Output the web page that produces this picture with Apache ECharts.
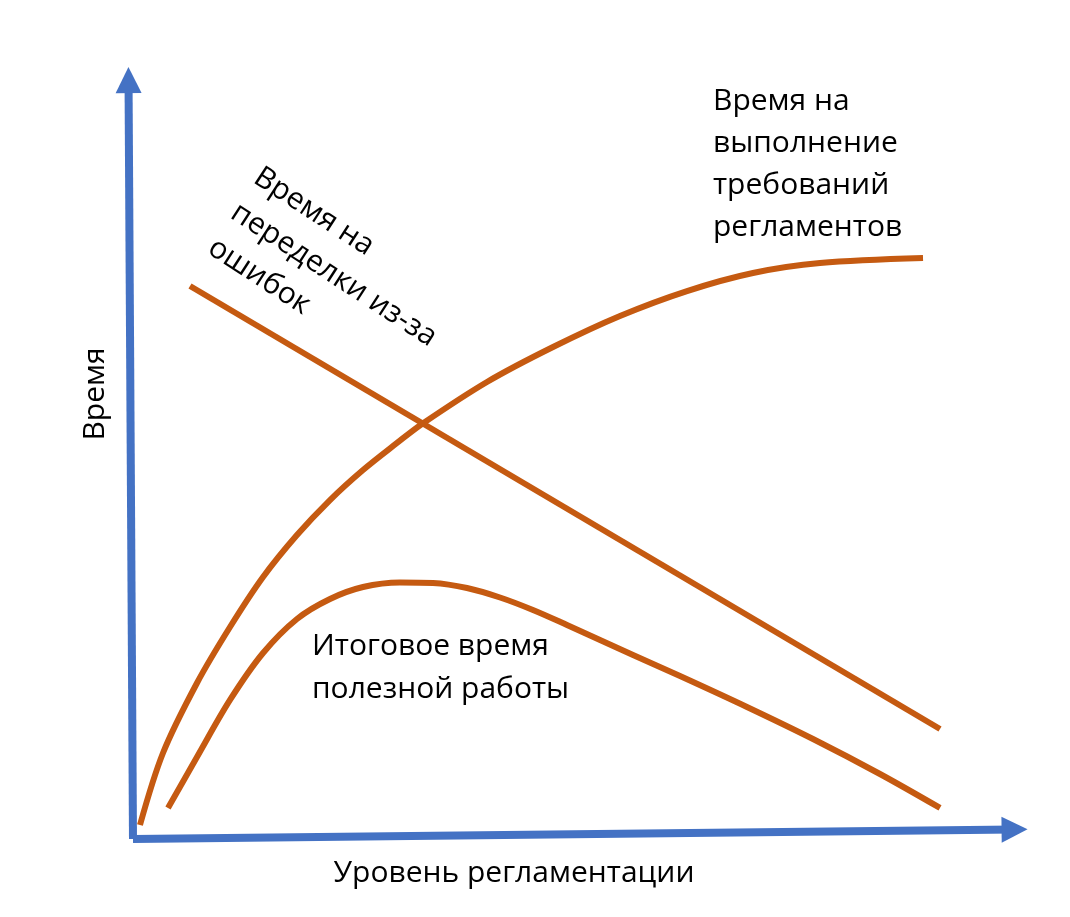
<!DOCTYPE html>
<html>
<head>
<meta charset="utf-8">
<script src="https://cdn.jsdelivr.net/npm/echarts@6/dist/echarts.min.js"></script>
<style>
html,body{margin:0;padding:0;background:#fff;}
#chart{width:1070px;height:917px;}
</style>
</head>
<body>
<div id="chart"></div>
<script>
// Level of regulation (x) and time (y), in chart units 0..100
const regLevel = [0.78, 3.35, 7.15, 10.84, 14.53, 18.32, 22.01, 25.70, 29.50, 32.29, 39.55, 46.93, 54.41, 61.90, 69.27, 76.76, 88.27];
const regTime  = [1.81, 11.14, 20.21, 27.46, 33.94, 39.38, 43.91, 47.80, 51.30, 53.76, 59.20, 63.73, 67.75, 70.98, 73.32, 74.61, 75.26];

const errLevel = [6.37, 90.17];
const errTime  = [71.63, 14.25];

const totLevel = [3.91, 7.15, 10.84, 14.53, 18.32, 22.01, 25.70, 29.83, 33.52, 37.32, 41.01, 44.69, 48.49, 52.18, 55.87, 61.12, 68.60, 75.98, 83.46, 90.17];
const totTime  = [4.02, 10.62, 18.01, 24.09, 28.50, 31.09, 32.64, 33.23, 33.16, 32.51, 31.28, 29.66, 27.72, 25.78, 23.83, 21.11, 17.10, 12.95, 8.42, 4.02];

// hand-drawn axes (start and arrow-centre points, chart units)
const axisYLine = [[0, 0], [-0.5, 98.3]];
const axisXLine = [[0, 0], [98.5, 1.23]];

const labelReg = 'Время на\nвыполнение\nтребований\nрегламентов';
const labelErr = 'Время на\nпеределки из-за\nошибок';
const labelTot = 'Итоговое время\nполезной работы';
const titleX = 'Уровень регламентации';
const titleY = 'Время';

const zip = (a, b) => a.map((v, i) => [v, b[i]]);

const ORANGE = '#C55A11';
const BLUE = '#4472C4';
const FONT = '"Open Sans", "Noto Sans", sans-serif';

const chart = echarts.init(document.getElementById('chart'), null, {renderer: 'canvas'});
const lineBase = {
  type: 'line', showSymbol: false, symbol: 'none', smooth: 0.33, clip: false,
  lineStyle: {color: ORANGE, width: 6, cap: 'butt', join: 'round'}, emphasis: {disabled: true}, silent: true
};
chart.setOption({
  backgroundColor: '#fff',
  animation: false,
  grid: {left: 133, top: 67, width: 895, height: 772},
  xAxis: {type: 'value', min: 0, max: 100, show: false},
  yAxis: {type: 'value', min: 0, max: 100, show: false},
  series: [
    Object.assign({}, lineBase, {name: 'reg', data: zip(regLevel, regTime)}),
    Object.assign({}, lineBase, {name: 'err', smooth: false, data: zip(errLevel, errTime)}),
    Object.assign({}, lineBase, {name: 'tot', data: zip(totLevel, totTime)}),
    {
      type: 'lines', coordinateSystem: 'cartesian2d', clip: false, silent: true,
      symbol: ['none', 'triangle'], symbolSize: [27, 26],
      lineStyle: {color: BLUE, width: 8, opacity: 1, curveness: 0},
      data: [{coords: axisYLine}, {coords: axisXLine}]
    }
  ],
  graphic: [
    {type: 'text', left: 713, top: 80, style: {text: labelReg, font: '30px ' + FONT, fill: '#000', lineHeight: 42}},
    {type: 'text', left: 312, top: 625, style: {text: labelTot, font: '30px ' + FONT, fill: '#000', lineHeight: 43}},
    {type: 'text', x: 268, y: 157, rotation: -33 * Math.PI / 180,
      style: {text: labelErr, font: '30px ' + FONT, fill: '#000', lineHeight: 42, align: 'left', verticalAlign: 'top'}},
    {type: 'text', x: 514, y: 873, style: {text: titleX, font: '30px ' + FONT, fill: '#000', align: 'center', verticalAlign: 'middle'}},
    {type: 'text', x: 95, y: 394, rotation: Math.PI / 2,
      style: {text: titleY, font: '30px ' + FONT, fill: '#000', align: 'center', verticalAlign: 'middle'}}
  ]
});
</script>
</body>
</html>
